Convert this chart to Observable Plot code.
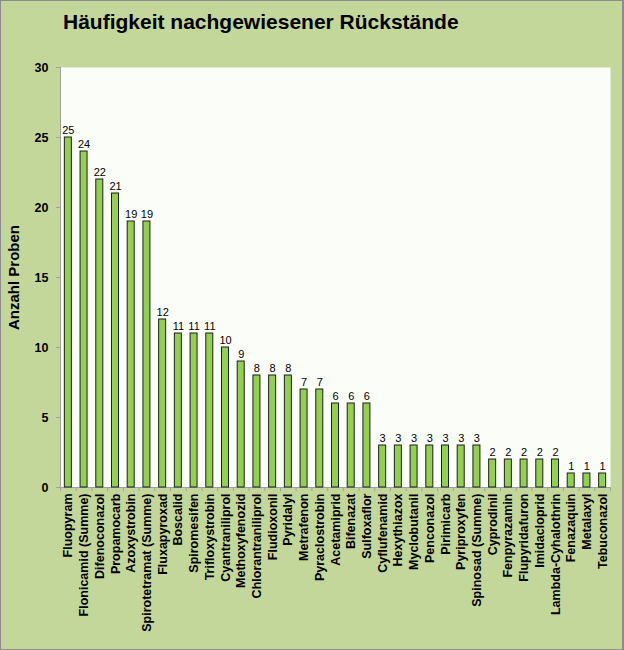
<!DOCTYPE html>
<html>
<head>
<meta charset="utf-8">
<script src="https://cdn.jsdelivr.net/npm/d3@7"></script>
<script src="https://cdn.jsdelivr.net/npm/@observablehq/plot@0.6"></script>
<style>
  html, body { margin: 0; padding: 0; background: #ffffff; }
  #wrap { position: relative; width: 624px; height: 650px; background: #C4D79B; font-family: Arial, "Liberation Sans", sans-serif; overflow: hidden; }
  #title { height: 48px; line-height: 44px; padding-left: 63px; font-size: 21px; font-weight: bold; color: #000; white-space: nowrap; }
  #border { position: absolute; left: 0; top: 0; width: 624px; height: 650px; box-sizing: border-box; border: 1px solid #8c8c8c; border-right-width: 2px; pointer-events: none; }
  svg { display: block; }
</style>
</head>
<body>
<div id="wrap">
  <div id="title">Häufigkeit nachgewiesener Rückstände</div>
  <div id="chart"></div>
  <div id="border"></div>
</div>
<script>
const wirkstoffe = ["Fluopyram","Flonicamid (Summe)","Difenoconazol","Propamocarb","Azoxystrobin","Spirotetramat (Summe)","Fluxapyroxad","Boscalid","Spiromesifen","Trifloxystrobin","Cyantraniliprol","Methoxyfenozid","Chlorantraniliprol","Fludioxonil","Pyridalyl","Metrafenon","Pyraclostrobin","Acetamiprid","Bifenazat","Sulfoxaflor","Cyflufenamid","Hexythiazox","Myclobutanil","Penconazol","Pirimicarb","Pyriproxyfen","Spinosad (Summe)","Cyprodinil","Fenpyrazamin","Flupyridafuron","Imidacloprid","Lambda-Cyhalothrin","Fenazaquin","Metalaxyl","Tebuconazol"];
const anzahl = [25,24,22,21,19,19,12,11,11,11,10,9,8,8,8,7,7,6,6,6,3,3,3,3,3,3,3,2,2,2,2,2,1,1,1];
const yTicks = [0,5,10,15,20,25,30];

const data = wirkstoffe.map((name, i) => ({name, value: anzahl[i]}));

const W = 624, H = 602;
const mL = 60, mR = 14, mT = 19, mB = 163;
const step = (W - mL - mR) / wirkstoffe.length;
const barW = 7;
const inset = (step - barW) / 2;

const chart = Plot.plot({
  width: W,
  height: H,
  marginLeft: mL,
  marginRight: mR,
  marginTop: mT,
  marginBottom: mB,
  style: {background: "transparent", fontFamily: "Arial, 'Liberation Sans', sans-serif", color: "#000"},
  x: {domain: wirkstoffe, paddingInner: 0, paddingOuter: 0, round: false},
  y: {domain: [0, 30]},
  marks: [
    Plot.frame({fill: "#fbfdf8", stroke: null}),
    // axis lines
    Plot.ruleY([0], {stroke: "#a0a0a0"}),
    Plot.ruleX([wirkstoffe[0]], {dx: -step/2, y1: 0, y2: 30, stroke: "#a0a0a0"}),
    // category boundary ticks
    Plot.ruleX(wirkstoffe, {dx: step/2, y1: 0, y2: -0.3, stroke: "#a0a0a0", clip: false}),
    Plot.ruleX([wirkstoffe[0]], {dx: -step/2, y1: 0, y2: -0.3, stroke: "#a0a0a0", clip: false}),
    Plot.axisY({ticks: yTicks, tickSize: 4, tickPadding: 8, stroke: "#a0a0a0", fontSize: 12.5, fontWeight: "bold", label: null, tickFormat: d => d}),
    Plot.axisY({ticks: [], label: "Anzahl Proben", labelAnchor: "center", labelArrow: "none", labelOffset: 52, fontSize: 15, fontWeight: "bold"}),
    Plot.axisX({tickSize: 0, tickPadding: 6, tickRotate: -90, fontSize: 12.5, fontWeight: "bold", label: null}),
    Plot.barY(data, {x: "name", y: "value", fill: "#92D050", stroke: "#1f1f1f", strokeWidth: 1, insetLeft: inset, insetRight: inset}),
    Plot.text(data, {x: "name", y: "value", text: d => String(d.value), lineAnchor: "bottom", dy: -4, fontSize: 11, fill: "#000"})
  ]
});
document.getElementById("chart").appendChild(chart);
</script>
</body>
</html>
